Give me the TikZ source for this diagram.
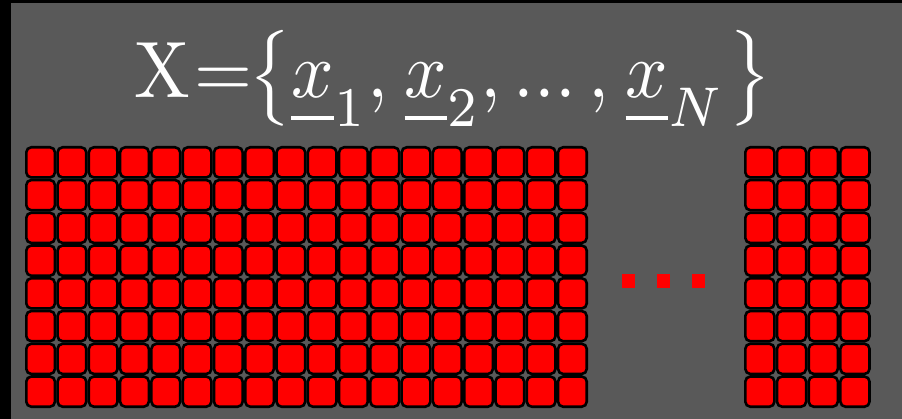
\documentclass[tikz,border=0pt]{standalone}
\usepackage{amsmath}
\usepackage{graphicx}
\definecolor{bg}{RGB}{89,89,89}
\newcommand\ulvec[1]{\underline{\rule[-0.11em]{0pt}{0pt}#1}}
\begin{document}
\begin{tikzpicture}[x=1pt,y=-1pt,
  cell/.style={fill=red,draw=black,line width=2.6pt,rounded corners=5pt},
  dotsq/.style={fill=red},
  titletext/.style={text=white,inner sep=0pt}]
\useasboundingbox (0,0) rectangle (902,419);
\fill[bg] (0,0) rectangle (902,419);
\fill[black] (0,0) rectangle (11,419);
\fill[black] (0,0) rectangle (902,3);
% left block 18 x 8
\foreach \r in {0,...,7}{
  \foreach \c in {0,...,17}{
    \pgfmathsetmacro\xa{25+31.28*\c+1.3}
    \pgfmathsetmacro\ya{146+32.75*\r+1.3}
    \pgfmathsetmacro\xb{25+31.28*(\c+1)-1.3}
    \pgfmathsetmacro\yb{146+32.75*(\r+1)-1.3}
    \draw[cell] (\xa,\ya) rectangle (\xb,\yb);
  }
}
% right block 4 x 8
\foreach \r in {0,...,7}{
  \foreach \c in {0,...,3}{
    \pgfmathsetmacro\xa{744+31.7*\c+1.3}
    \pgfmathsetmacro\ya{146+32.75*\r+1.3}
    \pgfmathsetmacro\xb{744+31.7*(\c+1)-1.3}
    \pgfmathsetmacro\yb{146+32.75*(\r+1)-1.3}
    \draw[cell] (\xa,\ya) rectangle (\xb,\yb);
  }
}
% dots
\fill[dotsq] (622,274) rectangle (635,288);
\fill[dotsq] (657,274) rectangle (670,288);
\fill[dotsq] (692,274) rectangle (705,288);
% title
\node[titletext,anchor=base west] (title) at (134,98)
  {\scalebox{7.45}[8.0]{$\mathrm{X}\mkern1mu{=}\mkern-1mu\big\{\ulvec{x}_1{,}\mkern4mu\ulvec{x}_2{,}\mkern3mu{.}{.}{.}\mkern3mu{,}\mkern4mu\ulvec{x}_N\mkern1mu\big\}$}};
\end{tikzpicture}
\end{document}
